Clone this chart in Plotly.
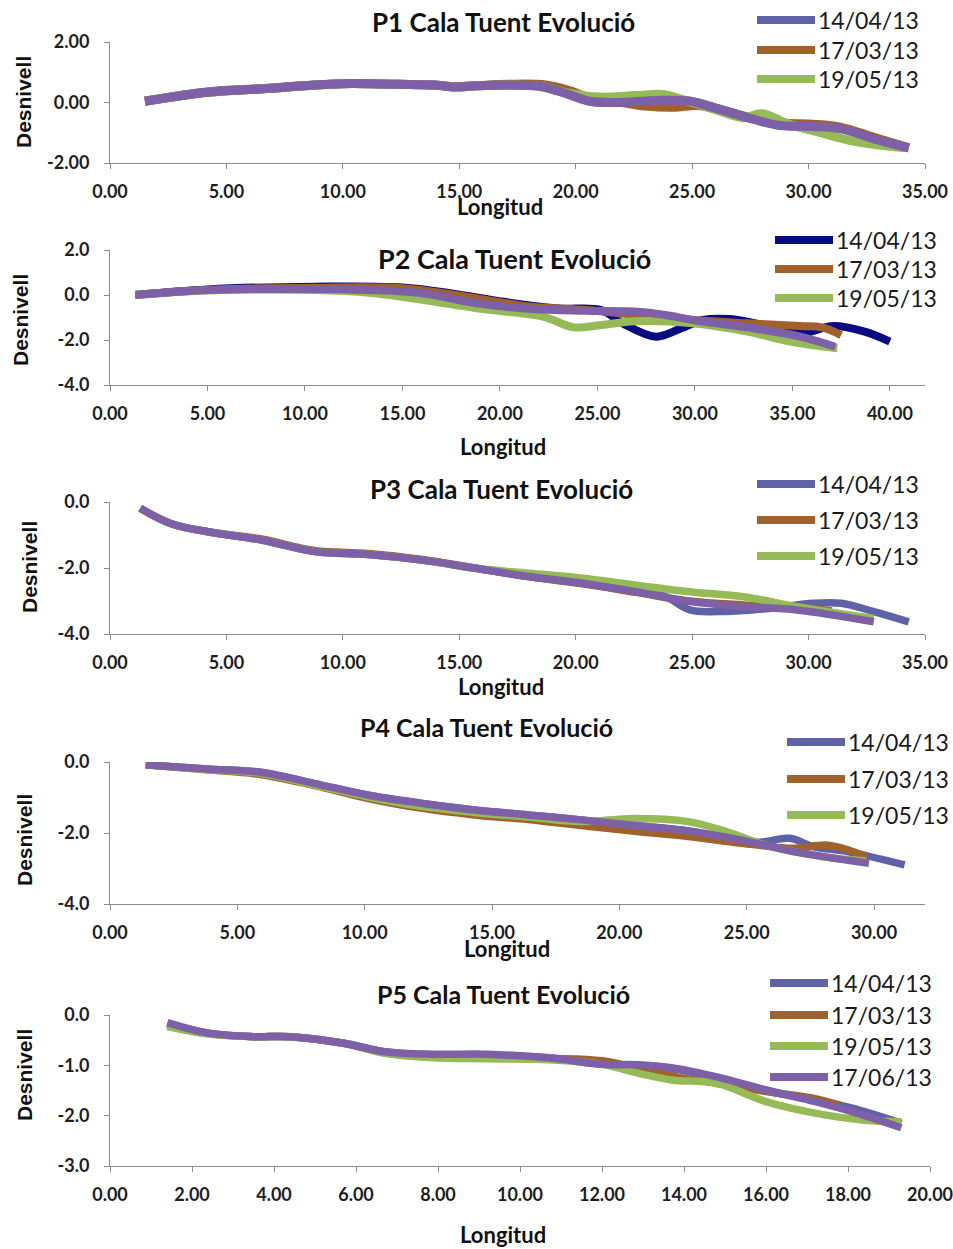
import plotly.graph_objects as go

# ---------------- DATA ----------------
SERIES_NAMES = ["14/04/13", "17/03/13", "19/05/13", "17/06/13"]
TITLES = ["P1 Cala Tuent Evolució", "P2 Cala Tuent Evolució", "P3 Cala Tuent Evolució",
          "P4 Cala Tuent Evolució", "P5 Cala Tuent Evolució"]
X_TITLE = "Longitud"
Y_TITLE = "Desnivell"

# P1
p1_a_x = [1.5, 4.2, 6.5, 9.9, 12.3, 13.9, 14.8, 15.7, 17.1, 18.5, 19.6, 20.6, 21.7, 23.5, 24.9, 26.1, 27.7, 28.8, 30.2, 31.4, 32.8, 34.3]
p1_a_y = [0.05, 0.35, 0.46, 0.62, 0.60, 0.58, 0.52, 0.55, 0.58, 0.54, 0.30, 0.05, 0.0, 0.07, 0.04, -0.20, -0.56, -0.75, -0.78, -0.86, -1.18, -1.5]
p1_b_x = [1.5, 4.2, 6.5, 9.9, 12.3, 13.9, 14.8, 15.7, 17.1, 18.7, 19.8, 20.8, 22.0, 23.0, 24.2, 25.2, 26.1, 27.7, 28.8, 30.2, 31.4, 32.8, 34.3]
p1_b_y = [0.04, 0.34, 0.45, 0.62, 0.60, 0.58, 0.52, 0.55, 0.60, 0.58, 0.38, 0.08, 0.0, -0.12, -0.16, -0.10, -0.22, -0.55, -0.68, -0.72, -0.82, -1.15, -1.5]
p1_c_x = [1.5, 4.2, 6.5, 9.9, 12.3, 13.9, 14.8, 15.7, 17.1, 18.5, 19.6, 21.0, 22.6, 23.8, 24.7, 26.1, 27.2, 28.0, 29.1, 30.2, 31.8, 33.2, 34.3]
p1_c_y = [0.04, 0.34, 0.45, 0.62, 0.60, 0.58, 0.51, 0.55, 0.58, 0.53, 0.32, 0.18, 0.23, 0.26, 0.07, -0.26, -0.50, -0.37, -0.70, -0.93, -1.26, -1.42, -1.5]
p1_d_x = [1.5, 4.2, 6.5, 9.9, 12.3, 13.9, 14.8, 15.7, 17.1, 18.5, 19.6, 20.6, 21.7, 23.5, 24.9, 26.1, 27.7, 28.8, 30.2, 31.4, 32.8, 34.3]
p1_d_y = [0.04, 0.34, 0.45, 0.62, 0.60, 0.58, 0.51, 0.55, 0.58, 0.53, 0.29, 0.04, 0.0, 0.07, 0.04, -0.21, -0.57, -0.76, -0.79, -0.87, -1.2, -1.5]

# P2
p2_a_x = [1.3, 5.0, 10.5, 15.0, 17.5, 20.2, 23.0, 25.2, 26.3, 28.0, 29.3, 30.4, 31.8, 33.5, 35.4, 37.1, 38.7, 40.0]
p2_a_y = [0.0, 0.25, 0.37, 0.33, 0.07, -0.30, -0.60, -0.67, -1.26, -1.85, -1.48, -1.11, -1.07, -1.33, -1.70, -1.38, -1.63, -2.07]
p2_b_x = [1.3, 5.0, 10.5, 15.0, 18.8, 21.6, 24.4, 27.1, 29.9, 32.7, 35.4, 36.5, 37.5]
p2_b_y = [0.0, 0.22, 0.32, 0.30, -0.15, -0.52, -0.67, -0.89, -1.11, -1.26, -1.38, -1.44, -1.78]
p2_c_x = [1.3, 5.0, 10.5, 13.3, 16.1, 18.8, 22.2, 23.8, 25.2, 27.1, 29.9, 32.7, 34.9, 37.3]
p2_c_y = [0.0, 0.20, 0.22, 0.10, -0.22, -0.59, -0.96, -1.44, -1.33, -1.16, -1.26, -1.63, -2.07, -2.37]
p2_d_x = [1.3, 5.0, 10.0, 13.3, 16.1, 18.8, 21.6, 24.4, 27.1, 28.5, 29.9, 32.7, 35.4, 37.2]
p2_d_y = [0.0, 0.22, 0.27, 0.22, 0.07, -0.37, -0.62, -0.70, -0.74, -0.89, -1.11, -1.44, -1.85, -2.30]

# P3
p3_a_x = [1.3, 2.6, 4.2, 6.5, 8.8, 11.1, 13.4, 15.7, 18.0, 20.3, 22.6, 23.8, 24.9, 26.1, 28.4, 30.2, 31.4, 32.8, 34.3]
p3_a_y = [-0.19, -0.65, -0.90, -1.15, -1.50, -1.59, -1.76, -2.01, -2.26, -2.46, -2.72, -2.85, -3.27, -3.32, -3.22, -3.07, -3.07, -3.32, -3.63]
p3_b_x = [1.3, 2.6, 4.2, 6.5, 8.8, 11.1, 13.4, 15.7, 18.0, 20.3, 22.6, 24.9, 27.2, 29.5, 31.0]
p3_b_y = [-0.19, -0.65, -0.90, -1.12, -1.47, -1.56, -1.74, -2.00, -2.27, -2.48, -2.74, -3.00, -3.12, -3.20, -3.30]
p3_c_x = [1.3, 2.6, 4.2, 6.5, 8.8, 11.1, 13.4, 15.7, 18.0, 20.3, 22.6, 24.9, 27.2, 29.5, 32.8]
p3_c_y = [-0.19, -0.65, -0.90, -1.15, -1.50, -1.59, -1.76, -2.01, -2.16, -2.31, -2.52, -2.72, -2.87, -3.17, -3.53]
p3_d_x = [1.3, 2.6, 4.2, 6.5, 8.8, 11.1, 13.4, 15.7, 18.0, 20.3, 22.6, 24.9, 27.2, 29.5, 32.8]
p3_d_y = [-0.19, -0.65, -0.90, -1.15, -1.50, -1.59, -1.76, -2.01, -2.26, -2.46, -2.72, -3.02, -3.17, -3.27, -3.63]

# P4
p4_a_x = [1.4, 3.8, 5.9, 8.0, 10.1, 12.2, 14.3, 16.4, 18.5, 20.6, 22.7, 24.8, 25.5, 26.7, 27.6, 29.0, 31.2]
p4_a_y = [-0.08, -0.20, -0.29, -0.60, -0.93, -1.16, -1.35, -1.49, -1.63, -1.79, -1.94, -2.20, -2.26, -2.15, -2.38, -2.53, -2.90]
p4_b_x = [1.4, 3.8, 5.9, 8.0, 10.1, 12.2, 14.3, 16.4, 18.5, 20.6, 22.7, 24.8, 26.9, 28.1, 29.0, 29.7]
p4_b_y = [-0.08, -0.22, -0.35, -0.66, -1.02, -1.30, -1.49, -1.62, -1.79, -1.95, -2.10, -2.29, -2.43, -2.34, -2.48, -2.67]
p4_c_x = [1.4, 3.8, 5.9, 8.0, 10.1, 12.2, 14.3, 16.4, 18.5, 20.6, 22.7, 24.2, 25.9, 28.0, 29.7]
p4_c_y = [-0.08, -0.21, -0.32, -0.64, -0.98, -1.25, -1.42, -1.55, -1.68, -1.59, -1.68, -1.96, -2.38, -2.67, -2.79]
p4_d_x = [1.4, 3.8, 5.9, 8.0, 10.1, 12.2, 14.3, 16.4, 18.5, 20.6, 22.7, 24.8, 26.9, 29.8]
p4_d_y = [-0.08, -0.20, -0.29, -0.60, -0.93, -1.16, -1.35, -1.49, -1.63, -1.79, -1.94, -2.20, -2.53, -2.85]

# P5
p5_a_x = [1.4, 2.4, 3.5, 4.4, 5.7, 6.7, 7.9, 9.2, 10.7, 12.0, 12.9, 13.8, 14.8, 16.0, 17.2, 18.1, 19.3]
p5_a_y = [-0.17, -0.36, -0.43, -0.43, -0.56, -0.73, -0.80, -0.80, -0.85, -0.98, -1.00, -1.08, -1.25, -1.50, -1.70, -1.85, -2.15]
p5_b_x = [1.4, 2.4, 3.5, 4.4, 5.7, 6.7, 7.9, 9.2, 10.7, 12.0, 12.9, 13.8, 14.8, 16.0, 17.2, 17.8]
p5_b_y = [-0.20, -0.37, -0.43, -0.43, -0.56, -0.75, -0.84, -0.83, -0.86, -0.91, -1.06, -1.23, -1.36, -1.52, -1.66, -1.79]
p5_c_x = [1.4, 2.4, 3.5, 4.4, 5.7, 6.7, 7.9, 9.2, 10.7, 12.0, 12.9, 13.7, 14.8, 16.0, 17.2, 18.4, 19.3]
p5_c_y = [-0.23, -0.38, -0.43, -0.43, -0.56, -0.76, -0.85, -0.87, -0.89, -0.98, -1.16, -1.29, -1.36, -1.72, -1.95, -2.09, -2.12]
p5_d_x = [1.4, 2.4, 3.5, 4.4, 5.7, 6.7, 7.9, 9.2, 10.7, 12.0, 12.9, 13.8, 14.8, 16.0, 17.2, 18.1, 19.3]
p5_d_y = [-0.15, -0.36, -0.43, -0.43, -0.56, -0.73, -0.78, -0.78, -0.85, -0.98, -0.99, -1.06, -1.23, -1.49, -1.72, -1.92, -2.24]

P1_YTICKS = [-2, 0, 2]
P2_YTICKS = [-4, -2, 0, 2]
P3_YTICKS = [-4, -2, 0]
P4_YTICKS = [-4, -2, 0]
P5_YTICKS = [-3, -2, -1, 0]
P1_XTICKS = [0, 5, 10, 15, 20, 25, 30, 35]
P2_XTICKS = [0, 5, 10, 15, 20, 25, 30, 35, 40]
P3_XTICKS = [0, 5, 10, 15, 20, 25, 30, 35]
P4_XTICKS = [0, 5, 10, 15, 20, 25, 30]
P5_XTICKS = [0, 2, 4, 6, 8, 10, 12, 14, 16, 18, 20]

# ---------------- STYLE / LAYOUT ----------------
W, H = 953, 1249
SLATE = "#6062A8"
NAVY = "#0A0A82"
BROWN = "#A0622D"
GREEN = "#95BA56"
PURPLE = "#7E60A8"

panels = [
    dict(series=[(p1_a_x, p1_a_y), (p1_b_x, p1_b_y), (p1_c_x, p1_c_y), (p1_d_x, p1_d_y)],
         colors=[SLATE, BROWN, GREEN, PURPLE], nleg=3, width=9,
         px=(110, 925), py=(42, 163), xr=[0, 35], yr=[-2, 2], xt=P1_XTICKS, yt=P1_YTICKS, yf="{:.2f}",
         title=(503, 22, 26), xtitle=(500, 206), ytitle=(24, 102),
         leg=(757, 815, [20, 50, 79])),
    dict(series=[(p2_a_x, p2_a_y), (p2_b_x, p2_b_y), (p2_c_x, p2_c_y), (p2_d_x, p2_d_y)],
         colors=[NAVY, BROWN, GREEN, PURPLE], nleg=3, width=8,
         px=(110, 925), py=(250, 385), xr=[0, 41.8], yr=[-4, 2], xt=P2_XTICKS, yt=P2_YTICKS, yf="{:.1f}",
         title=(514, 259, 27), xtitle=(503, 447), ytitle=(20, 320),
         leg=(775, 833, [240, 269, 298])),
    dict(series=[(p3_a_x, p3_a_y), (p3_b_x, p3_b_y), (p3_c_x, p3_c_y), (p3_d_x, p3_d_y)],
         colors=[SLATE, BROWN, GREEN, PURPLE], nleg=3, width=7.5,
         px=(110, 925), py=(502, 634), xr=[0, 35], yr=[-4, 0], xt=P3_XTICKS, yt=P3_YTICKS, yf="{:.1f}",
         title=(502, 489, 26), xtitle=(501, 686), ytitle=(30, 567),
         leg=(757, 815, [484, 520, 556])),
    dict(series=[(p4_a_x, p4_a_y), (p4_b_x, p4_b_y), (p4_c_x, p4_c_y), (p4_d_x, p4_d_y)],
         colors=[SLATE, BROWN, GREEN, PURPLE], nleg=3, width=7.5,
         px=(110, 925), py=(762, 904), xr=[0, 32], yr=[-4, 0], xt=P4_XTICKS, yt=P4_YTICKS, yf="{:.1f}",
         title=(487, 727, 25), xtitle=(507, 948), ytitle=(24, 840),
         leg=(787, 845, [742, 779, 815])),
    dict(series=[(p5_a_x, p5_a_y), (p5_b_x, p5_b_y), (p5_c_x, p5_c_y), (p5_d_x, p5_d_y)],
         colors=[SLATE, BROWN, GREEN, PURPLE], nleg=4, width=7.5,
         px=(110, 930), py=(1015, 1166), xr=[0, 20], yr=[-3, 0], xt=P5_XTICKS, yt=P5_YTICKS, yf="{:.1f}",
         title=(503, 994, 25), xtitle=(503, 1234), ytitle=(24, 1075),
         leg=(770, 828, [983, 1015, 1046, 1077])),
]

def fx(x):
    return x / W

def fy(y):
    return 1 - y / H

fig = go.Figure()
annotations = []
shapes = []
AXIS_COLOR = "#8C8C8C"
TICK_FONT = dict(family="Lato", size=18, color="#1E1E1E", weight="bold")

for i, p in enumerate(panels):
    n = i + 1
    xa = "x" if n == 1 else f"x{n}"
    ya = "y" if n == 1 else f"y{n}"
    for (sx, sy), col in zip(p["series"], p["colors"]):
        fig.add_trace(go.Scatter(x=sx, y=sy, mode="lines", xaxis=xa, yaxis=ya,
                                 line=dict(color=col, width=p["width"], shape="spline", smoothing=1.0),
                                 showlegend=False, hoverinfo="skip"))
    xkey = "xaxis" if n == 1 else f"xaxis{n}"
    ykey = "yaxis" if n == 1 else f"yaxis{n}"
    fig.layout[xkey] = dict(domain=[fx(p["px"][0]), fx(p["px"][1])], range=p["xr"], anchor=ya,
                            automargin=False, ticklabeloverflow="allow",
                            showline=True, linecolor=AXIS_COLOR, linewidth=1,
                            ticks="outside", ticklen=5, tickcolor=AXIS_COLOR,
                            tickvals=p["xt"], ticktext=[f"{v:.2f}" for v in p["xt"]],
                            tickfont=TICK_FONT, ticklabelstandoff=7,
                            showgrid=False, zeroline=False, fixedrange=True)
    fig.layout[ykey] = dict(domain=[fy(p["py"][1]), fy(p["py"][0])], range=p["yr"], anchor=xa,
                            automargin=False, ticklabeloverflow="allow",
                            showline=True, linecolor=AXIS_COLOR, linewidth=1,
                            ticks="outside", ticklen=5, tickcolor=AXIS_COLOR,
                            tickvals=p["yt"], ticktext=[p["yf"].format(v) for v in p["yt"]],
                            tickfont=TICK_FONT, ticklabelstandoff=11,
                            showgrid=False, zeroline=False, fixedrange=True)
    # title
    tx, ty, ts = p["title"]
    annotations.append(dict(text=TITLES[i], x=fx(tx), y=fy(ty), xref="paper", yref="paper",
                            xanchor="center", yanchor="middle", showarrow=False,
                            font=dict(family="Lato", size=ts, color="#111111", weight="bold")))
    # axis titles
    ax, ay = p["xtitle"]
    annotations.append(dict(text=X_TITLE, x=fx(ax), y=fy(ay), xref="paper", yref="paper",
                            xanchor="center", yanchor="middle", showarrow=False,
                            font=dict(family="Lato", size=22, color="#111111", weight="bold")))
    bx, by = p["ytitle"]
    annotations.append(dict(text=Y_TITLE, x=fx(bx), y=fy(by), xref="paper", yref="paper",
                            xanchor="center", yanchor="middle", showarrow=False, textangle=-90,
                            font=dict(family="Liberation Sans", size=21, color="#111111", weight="bold")))
    # legend
    lx0, lx1, rows = p["leg"]
    for k in range(p["nleg"]):
        ry = rows[k]
        shapes.append(dict(type="line", xref="paper", yref="paper",
                           x0=fx(lx0), x1=fx(lx1), y0=fy(ry), y1=fy(ry),
                           line=dict(color=p["colors"][k], width=8)))
        annotations.append(dict(text=SERIES_NAMES[k], x=fx(lx1 + 1), y=fy(ry), xref="paper", yref="paper",
                                xanchor="left", yanchor="middle", showarrow=False,
                                font=dict(family="Lato", size=23, color="#1A1A1A")))

fig.update_layout(width=W, height=H, margin=dict(l=0, r=0, t=0, b=0, autoexpand=False),
                  paper_bgcolor="white", plot_bgcolor="white",
                  showlegend=False, annotations=annotations, shapes=shapes)

fig.write_html("out.html", config={"displayModeBar": False},
               post_script="document.body.style.margin='0px';"
                           "document.documentElement.style.overflow='hidden';")
